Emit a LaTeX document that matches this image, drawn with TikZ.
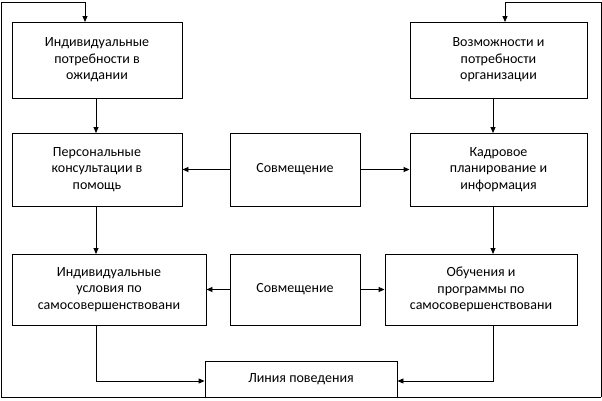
\documentclass[tikz,border=0pt]{standalone}
\usepackage{fontspec}
\setmainfont{Carlito}
\usetikzlibrary{arrows.meta}
\begin{document}
\begin{tikzpicture}[x=1pt,y=-1pt,
  bx/.style={draw,line width=0.9pt,align=center,font=\fontsize{14}{16.5}\selectfont},
  ar/.style={line width=0.9pt,-{Triangle[length=6pt,width=5pt]}}]
\useasboundingbox (0,0) rectangle (602,400);
\def\bxr#1#2#3#4#5#6{\node[bx,minimum width=#4-#2,minimum height=#5-#3] (#1) at ({(#2+#4)/2},{(#3+#5)/2}) {#6};}
\bxr{a}{12}{22}{182}{98}{Индивидуальные\\потребности в\\ожидании}
\bxr{b}{410}{22}{587}{98}{Возможности и\\потребности\\организации}
\bxr{c}{12}{133}{182}{206}{Персональные\\консультации в\\помощь}
\bxr{m1}{230}{133}{360}{206}{Совмещение}
\bxr{d}{410}{133}{587}{206}{Кадровое\\планирование и\\информация}
\bxr{e}{12}{254}{206}{325}{Индивидуальные\\условия по\\самосовершенствовани}
\bxr{m2}{230}{254}{360}{325}{Совмещение}
\bxr{f}{385}{254}{577}{325}{Обучения и\\программы по\\самосовершенствовани}
\bxr{g}{205}{361}{397}{397}{Линия поведения}
\draw[ar] (96,98) -- (96,133);
\draw[ar] (493,98) -- (493,133);
\draw[ar] (96,206) -- (96,254);
\draw[ar] (493,206) -- (493,254);
\draw[ar] (m1.west) -- (c.east);
\draw[ar] (m1.east) -- (d.west);
\draw[ar] (m2.west) -- (e.east);
\draw[ar] (m2.east) -- (f.west);
\draw[ar] (96,325) |- (g.west |- 0,381);
\draw[ar] (493,325) |- (g.east |- 0,381);
\draw[line width=0.9pt] (1,397) -- (601,397);
\draw[ar] (1,397) -- (1,2) -- (85,2) -- (85,22);
\draw[ar] (601,397) -- (601,2) -- (505,2) -- (505,22);
\end{tikzpicture}
\end{document}
